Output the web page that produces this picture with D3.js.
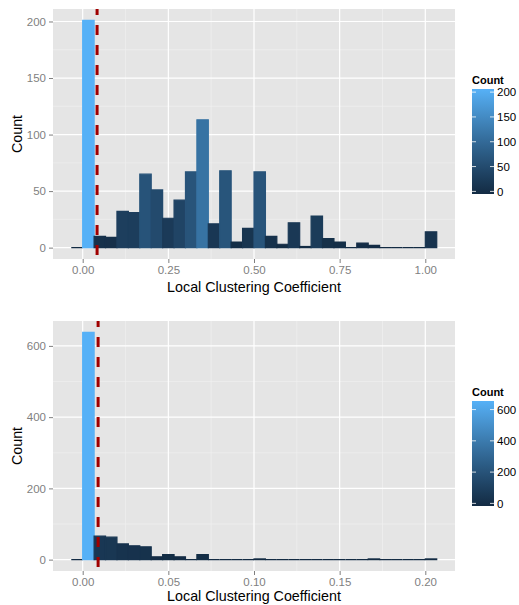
<!DOCTYPE html>
<html>
<head>
<meta charset="utf-8">
<script src="https://cdn.jsdelivr.net/npm/d3@7"></script>
<style>
  html, body { margin: 0; padding: 0; background: #ffffff; }
  svg { display: block; }
  text { font-family: "Liberation Sans", Arial, Helvetica, sans-serif; }
</style>
</head>
<body>
<svg id="chart" width="519" height="605"></svg>
<script>
// Histogram of local clustering coefficients: counts per bin, first bin starts one width below zero
const binWidthA = 1 / 30;
const countsA = [0, 201, 10, 9, 32, 31, 65, 51, 26, 42, 67, 113, 21, 68, 5, 17,
                 67, 10, 3, 22, 1, 28, 8, 5, 0, 4, 2, 0, 0, 0, 0, 14];
const xTicksA = [0, 0.25, 0.5, 0.75, 1.0];
const yTicksA = [0, 50, 100, 150, 200];
const legendTicksA = [0, 50, 100, 150, 200];
const refLineA = 0.042;

const binWidthB = 0.2 / 30;
const countsB = [0, 638, 66, 63, 44, 39, 36, 8, 14, 8, 0, 14, 0, 0, 0, 0, 2,
                 0, 0, 0, 0, 0, 0, 0, 0, 0, 2, 0, 0, 0, 0, 2];
const xTicksB = [0, 0.05, 0.10, 0.15, 0.20];
const yTicksB = [0, 200, 400, 600];
const legendTicksB = [0, 200, 400, 600];
const refLineB = 0.009;

const lowColor = "#132B43", highColor = "#56B1F7";
const svg = d3.select("#chart");
const svgHeight = +svg.attr("height");

const defs = svg.append("defs");

function drawPanel(cfg) {
  const { top, counts, binWidth, xTicks, yTicks, legendTicks, refLine, xFmt, id } = cfg;
  const left = 53, right = 455, height = 250;
  const bottom = top + height;

  const bins = counts.map((c, i) => ({ x0: (i - 1) * binWidth, x1: i * binWidth, count: c }));
  const xMin = bins[0].x0, xMax = bins[bins.length - 1].x1;
  const xPad = (xMax - xMin) * 0.05;
  const maxCount = d3.max(counts);
  const yPad = maxCount * 0.05;

  const x = d3.scaleLinear().domain([xMin - xPad, xMax + xPad]).range([left, right]);
  const y = d3.scaleLinear().domain([-yPad, maxCount + yPad]).range([bottom, top]);
  const color = d3.scaleLinear().domain([0, maxCount]).range([lowColor, highColor])
    .interpolate(d3.interpolateLab);

  const g = svg.append("g");

  // panel background
  g.append("rect").attr("x", left).attr("y", top).attr("width", right - left).attr("height", height)
    .attr("fill", "#E5E5E5");

  // minor grid
  const minorX = d3.pairs(xTicks).map(([a, b]) => (a + b) / 2);
  const minorY = d3.pairs(yTicks).map(([a, b]) => (a + b) / 2);
  g.selectAll(".mgx").data(minorX).join("line")
    .attr("x1", d => x(d)).attr("x2", d => x(d)).attr("y1", top).attr("y2", bottom)
    .attr("stroke", "#F2F2F2").attr("stroke-width", 0.6);
  g.selectAll(".mgy").data(minorY).join("line")
    .attr("y1", d => y(d)).attr("y2", d => y(d)).attr("x1", left).attr("x2", right)
    .attr("stroke", "#F2F2F2").attr("stroke-width", 0.6);

  // major grid
  g.selectAll(".gx").data(xTicks).join("line")
    .attr("x1", d => x(d)).attr("x2", d => x(d)).attr("y1", top).attr("y2", bottom)
    .attr("stroke", "#FFFFFF").attr("stroke-width", 1.2);
  g.selectAll(".gy").data(yTicks).join("line")
    .attr("y1", d => y(d)).attr("y2", d => y(d)).attr("x1", left).attr("x2", right)
    .attr("stroke", "#FFFFFF").attr("stroke-width", 1.2);

  // bars (drawn as paths so that empty bins still leave a thin line)
  g.selectAll(".bar").data(bins).join("path")
    .attr("d", d => `M${x(d.x0)},${y(0)}V${y(d.count)}H${x(d.x1)}V${y(0)}Z`)
    .attr("fill", d => color(d.count))
    .attr("stroke", d => color(d.count))
    .attr("stroke-width", 1.2);

  // reference line
  g.append("line")
    .attr("x1", x(refLine)).attr("x2", x(refLine)).attr("y1", top).attr("y2", bottom)
    .attr("stroke", "#A00000").attr("stroke-width", 3)
    .attr("stroke-dasharray", "10,10").attr("stroke-dashoffset", 4);

  // axes
  const xAxis = d3.axisBottom(x).tickValues(xTicks).tickFormat(xFmt).tickSize(4).tickPadding(3);
  const yAxis = d3.axisLeft(y).tickValues(yTicks).tickFormat(d3.format("d")).tickSize(4).tickPadding(3);

  const gx = g.append("g").attr("transform", `translate(0,${bottom})`).call(xAxis);
  const gy = g.append("g").attr("transform", `translate(${left},0)`).call(yAxis);
  [gx, gy].forEach(a => {
    a.select(".domain").remove();
    a.selectAll("line").attr("stroke", "#7F7F7F");
    a.selectAll("text").attr("fill", "#7F7F7F").attr("font-size", 11.5)
      .attr("font-family", '"Liberation Sans", Arial, sans-serif');
  });
  gx.selectAll("text").attr("dy", "0.71em");

  // axis titles (kept inside the drawing area)
  g.append("text").attr("x", (left + right) / 2).attr("y", Math.min(bottom + 33, svgHeight - 4))
    .attr("text-anchor", "middle").attr("font-size", 14.3).attr("fill", "#000")
    .text("Local Clustering Coefficient");
  g.append("text").attr("transform", `translate(22,${(top + bottom) / 2}) rotate(-90)`)
    .attr("text-anchor", "middle").attr("font-size", 14.3).attr("fill", "#000")
    .text("Count");

  // colour bar legend
  const lgX = 472, lgW = 22, lgTop = top + 80, lgH = 105;
  g.append("text").attr("x", lgX).attr("y", top + 75).attr("font-size", 11)
    .attr("font-weight", "bold").attr("fill", "#000").text("Count");

  const grad = defs.append("linearGradient").attr("id", id)
    .attr("x1", 0).attr("y1", 1).attr("x2", 0).attr("y2", 0);
  d3.range(0, 1.0001, 0.1).forEach(t => {
    grad.append("stop").attr("offset", t).attr("stop-color", color(t * maxCount));
  });
  g.append("rect").attr("x", lgX).attr("y", lgTop).attr("width", lgW).attr("height", lgH)
    .attr("fill", `url(#${id})`);

  const half = lgH / 40;
  const ly = d3.scaleLinear().domain([0, maxCount]).range([lgTop + lgH - half, lgTop + half]);
  const lt = g.selectAll(".lt").data(legendTicks).join("g");
  lt.append("line").attr("x1", lgX).attr("x2", lgX + 4).attr("y1", d => ly(d)).attr("y2", d => ly(d))
    .attr("stroke", "#FFFFFF").attr("stroke-opacity", 0.8);
  lt.append("line").attr("x1", lgX + lgW - 4).attr("x2", lgX + lgW).attr("y1", d => ly(d)).attr("y2", d => ly(d))
    .attr("stroke", "#FFFFFF").attr("stroke-opacity", 0.8);
  lt.append("text").attr("x", lgX + lgW + 3).attr("y", d => ly(d)).attr("dy", "0.36em")
    .attr("font-size", 11.5).attr("fill", "#000").text(d => d);
}

drawPanel({ top: 9, counts: countsA, binWidth: binWidthA, xTicks: xTicksA, yTicks: yTicksA,
  legendTicks: legendTicksA, refLine: refLineA, xFmt: d3.format(".2f"), id: "gradA" });
drawPanel({ top: 321, counts: countsB, binWidth: binWidthB, xTicks: xTicksB, yTicks: yTicksB,
  legendTicks: legendTicksB, refLine: refLineB, xFmt: d3.format(".2f"), id: "gradB" });
</script>
</body>
</html>
